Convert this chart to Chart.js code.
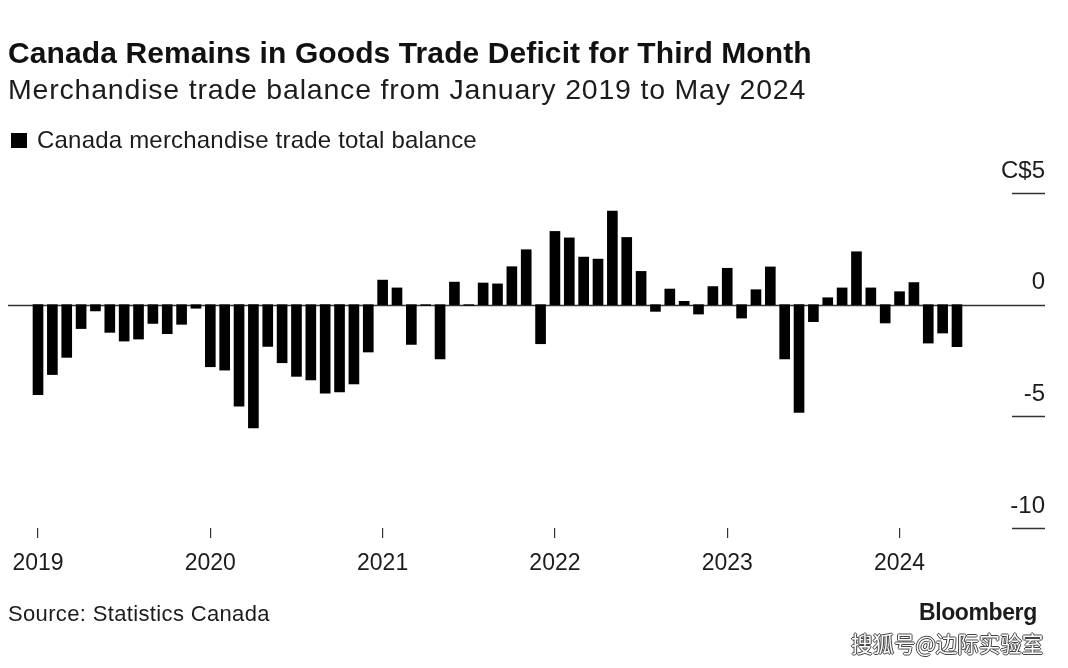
<!DOCTYPE html>
<html>
<head>
<meta charset="utf-8">
<script src="https://cdn.jsdelivr.net/npm/chart.js@4"></script>
<style>
  html, body { margin: 0; background: #fff; }
  #wrap { position: relative; width: 1068px; height: 668px; overflow: hidden; font-family: "Liberation Sans", sans-serif; color: #1c1c1c; }
  #wrap div { position: absolute; white-space: nowrap; }
  canvas { position: absolute; left: 0; top: 0; }
  #title { left: 8px; top: 36px; font-size: 30px; font-weight: bold; line-height: 34px; letter-spacing: 0.1px; color: #111; }
  #subtitle { left: 8px; top: 72px; font-size: 28.5px; line-height: 34px; letter-spacing: 0.8px; }
  #swatch { left: 11px; top: 133px; width: 16px; height: 15px; background: #000; }
  #legend { left: 37px; top: 126px; font-size: 24px; line-height: 28px; letter-spacing: 0.2px; }
  #source { left: 8px; top: 600px; font-size: 22px; line-height: 28px; letter-spacing: 0.35px; }
  #brand { left: 919px; top: 598px; font-size: 23px; font-weight: bold; line-height: 28px; letter-spacing: -0.4px; }
  #mark { left: 851px; top: 630px; font-size: 21.5px; line-height: 26px; font-family: "Noto Sans CJK SC", sans-serif; color: #fff; text-shadow: 1px 0 0 #444, -1px 0 0 #444, 0 1px 0 #444, 0 -1px 0 #444; }
</style>
</head>
<body>
<div id="wrap">
  <canvas id="tradeChart" width="1068" height="668"></canvas>
  <div id="title">Canada Remains in Goods Trade Deficit for Third Month</div>
  <div id="subtitle">Merchandise trade balance from January 2019 to May 2024</div>
  <div id="swatch"></div>
  <div id="legend">Canada merchandise trade total balance</div>
  <div id="source">Source: Statistics Canada</div>
  <div id="brand">Bloomberg</div>
  <div id="mark">搜狐号@边际实验室</div>
</div>
<script>
// monthly values, Jan 2019 to May 2024
const balance2019 = [-4.03, -3.13, -2.36, -1.07, -0.28, -1.24, -1.63, -1.54, -0.84, -1.30, -0.88, -0.16];
const balance2020 = [-2.78, -2.93, -4.54, -5.52, -1.87, -2.60, -3.21, -3.37, -3.96, -3.91, -3.55, -2.12];
const balance2021 = [1.10, 0.75, -1.78, -0.03, -2.43, 1.01, -0.03, 0.97, 0.93, 1.70, 2.46, -1.75];
const balance2022 = [3.28, 2.99, 2.13, 2.04, 4.19, 3.01, 1.49, -0.30, 0.70, 0.15, -0.42, 0.81];
const balance2023 = [1.63, -0.60, 0.67, 1.69, -2.43, -4.82, -0.76, 0.31, 0.75, 2.37, 0.75, -0.82];
const balance2024 = [0.58, 0.99, -1.72, -1.27, -1.88];
const balance = [...balance2019, ...balance2020, ...balance2021, ...balance2022, ...balance2023, ...balance2024];

const yearLabels = ['2019', '2020', '2021', '2022', '2023', '2024'];
const yTicks = [5, 0, -5, -10];

// short rule at the right of each y tick, the zero line runs the whole width
const axisRules = {
    id: 'axisRules',
    beforeDatasetsDraw(chart) {
        const { ctx, chartArea, scales } = chart;
        ctx.save();
        yTicks.forEach(v => {
            const y = Math.round(scales.y.getPixelForValue(v)) + 0.5;
            ctx.beginPath();
            ctx.moveTo(v === 0 ? chartArea.left : chartArea.right - 33, y);
            ctx.lineTo(chartArea.right, y);
            ctx.lineWidth = 1.4;
            ctx.strokeStyle = '#333';
            ctx.stroke();
        });
        ctx.restore();
    }
};

new Chart(document.getElementById('tradeChart'), {
    type: 'bar',
    data: {
        datasets: [{
            label: 'Canada merchandise trade total balance',
            data: balance.map((v, i) => ({ x: i, y: v })),
            backgroundColor: '#000',
            barThickness: 10
        }]
    },
    options: {
        responsive: false,
        animation: false,
        layout: { autoPadding: false, padding: { left: 8, right: 23, top: 193, bottom: 0 } },
        plugins: { legend: { display: false }, title: { display: false }, tooltip: { enabled: false } },
        scales: {
            x: {
                type: 'linear',
                offset: false,   // bar charts turn this on by default
                min: -2.09,
                max: 70.13,
                afterBuildTicks(s) { s.ticks = yearLabels.map((_, i) => ({ value: i * 12 })); },
                afterFit(s) { s.height = 140; },
                border: { display: false },
                grid: { offset: false, drawOnChartArea: false, tickLength: 10, color: '#333', lineWidth: 1.2 },
                ticks: {
                    autoSkip: false,
                    maxRotation: 0,
                    padding: 12,
                    color: '#1c1c1c',
                    font: { family: 'Liberation Sans', size: 23 },
                    callback: v => yearLabels[v / 12]
                }
            },
            y: {
                position: 'right',
                min: -10,
                max: 5,
                afterBuildTicks(s) { s.ticks = yTicks.map(v => ({ value: v })); },
                afterFit(s) { s.width = 0; },
                border: { display: false },
                grid: { display: false },
                ticks: {
                    mirror: true,
                    padding: 0,
                    labelOffset: -22,
                    color: '#1c1c1c',
                    font: { family: 'Liberation Sans', size: 24 },
                    callback: v => (v === 5 ? 'C$5' : String(v))
                }
            }
        }
    },
    plugins: [axisRules]
});
</script>
</body>
</html>
